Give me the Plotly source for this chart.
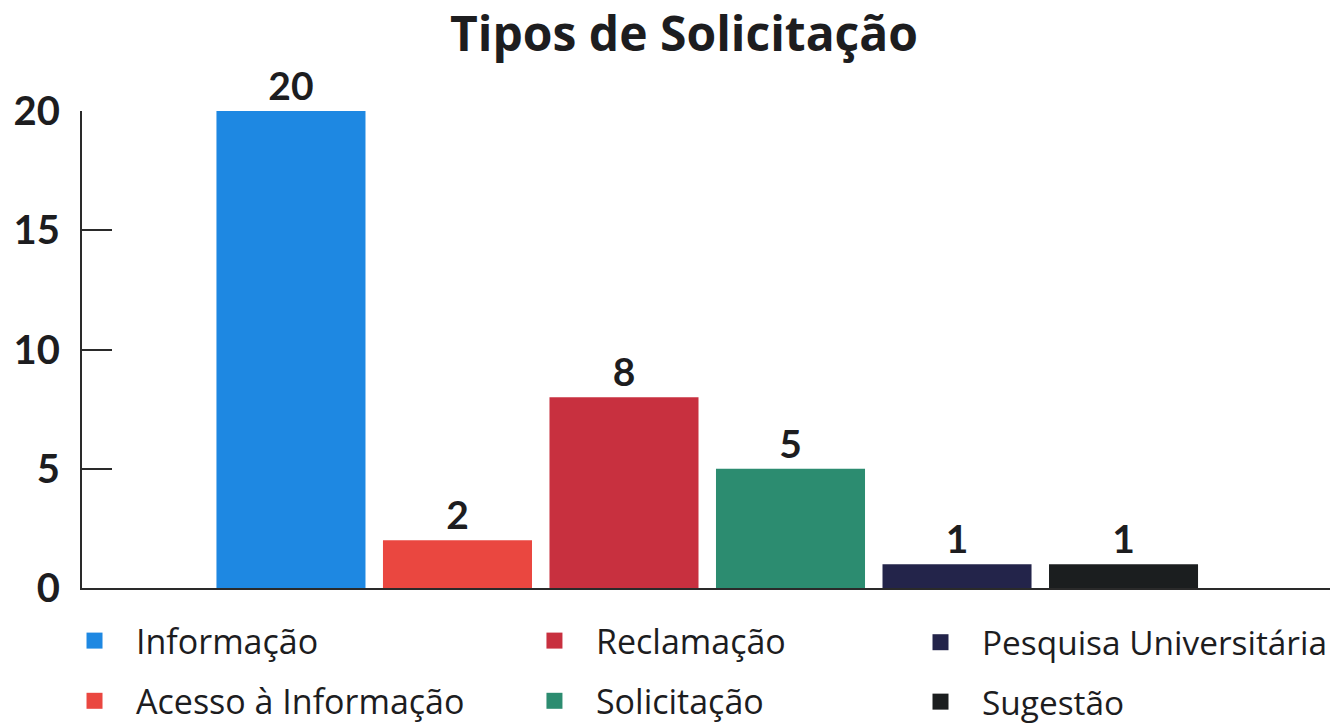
import plotly.graph_objects as go

categories = ["Informação", "Acesso à Informação", "Reclamação", "Solicitação",
              "Pesquisa Universitária", "Sugestão"]
values = [20, 2, 8, 5, 1, 1]
colors = ["#1E88E2", "#EA4740", "#C8303F", "#2C8C70", "#23244A", "#1B1E1F"]
legend_slots = ["legend", "legend", "legend2", "legend2", "legend3", "legend3"]
y_ticks = [0, 5, 10, 15, 20]

FONT = "Lato"
H = 730
fig = go.Figure()
for cat, val, col, lg in zip(categories, values, colors, legend_slots):
    fig.add_trace(go.Bar(
        x=[cat], y=[val], name=cat, marker_color=col, marker_line_width=0,
        width=0.895, text=[str(val)], textposition="outside",
        textfont=dict(family=FONT, size=39, color="#1d1d1f", weight="bold"),
        cliponaxis=False, showlegend=False, legendgroup=cat,
    ))
    fig.add_trace(go.Scatter(
        x=[None], y=[None], mode="markers", name=cat, legendgroup=cat,
        marker=dict(symbol="square", size=25, color=col), legend=lg,
        hoverinfo="skip",
    ))

legend_common = dict(
    orientation="v", yanchor="bottom", y=0.0,
    bgcolor="rgba(0,0,0,0)", tracegroupgap=13, itemsizing="trace",
    itemwidth=73,
)

fig.update_layout(
    width=1332, height=H,
    margin=dict(l=0, r=0, t=0, b=0),
    paper_bgcolor="white", plot_bgcolor="white",
    barmode="overlay",
    title=dict(text="<b>Tipos de Solicitação</b>", x=0.5135, xref="paper",
               xanchor="center", y=1 - 34 / H, yanchor="middle",
               font=dict(family="Open Sans", size=48, color="#1d1d1f")),
    legend=dict(x=0.0398, xanchor="left",
                font=dict(family="Open Sans", size=34, color="#1d1d1f"),
                **legend_common),
    legend2=dict(x=0.3851, xanchor="left",
                 font=dict(family="Open Sans", size=34, color="#1d1d1f"),
                 **legend_common),
    legend3=dict(x=1.0, xanchor="right",
                 font=dict(family="Open Sans", size=33.4, color="#1d1d1f"),
                 **legend_common),
    xaxis=dict(domain=[0.06156, 0.9985], range=[-1.255, 6.24],
               showticklabels=False, showgrid=False, automargin=False,
               showline=True, linecolor="#2a2a2a", linewidth=2, zeroline=False,
               ticks=""),
    yaxis=dict(domain=[(H - 588) / H, (H - 111) / H], range=[0, 20],
               tickvals=y_ticks,
               showgrid=False, zeroline=False, automargin=False,
               showline=True, linecolor="#2a2a2a", linewidth=2,
               ticks="inside", ticklen=30, tickwidth=2, tickcolor="#2a2a2a",
               ticklabelstandoff=12,
               tickfont=dict(family=FONT, size=40, color="#1d1d1f", weight="bold")),
)

fig.write_html("out.html", config={"displayModeBar": False},
               post_script="document.body.style.margin='0';")
